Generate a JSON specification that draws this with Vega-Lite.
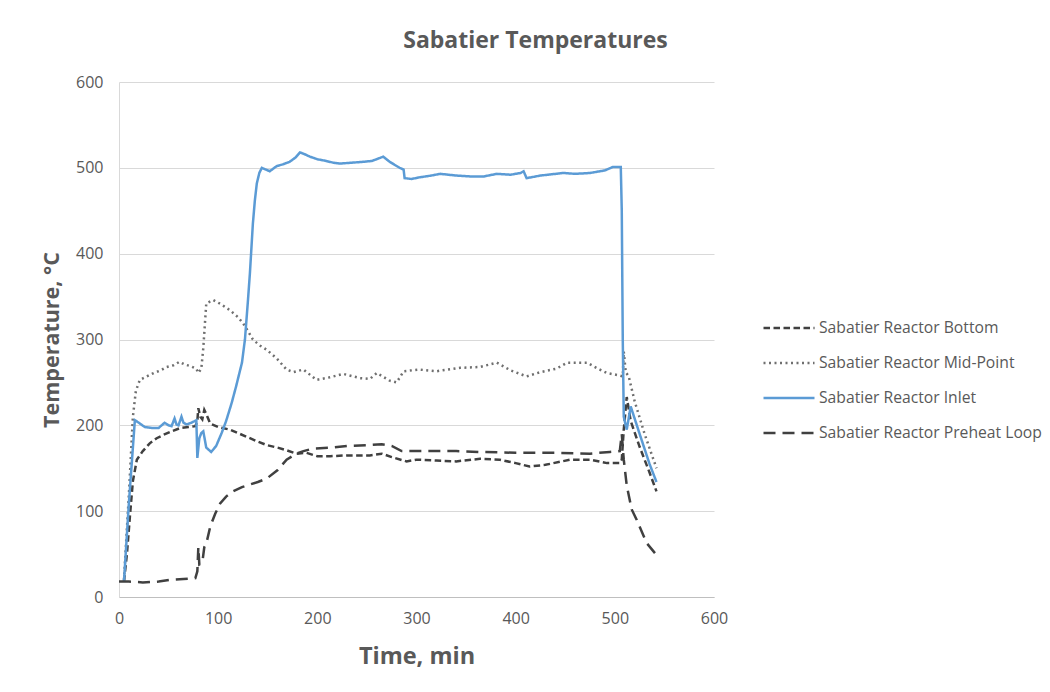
{
  "$schema": "https://vega.github.io/schema/vega-lite/v6.json",
  "width": 595,
  "height": 515,
  "autosize": {"type": "none"},
  "padding": {"left": 119, "top": 82, "right": 336, "bottom": 95},
  "background": "white",
  "config": {
    "view": {"stroke": null},
    "font": "Open Sans"
  },
  "title": {
    "text": "Sabatier Temperatures",
    "anchor": "middle",
    "frame": "group",
    "dx": 119,
    "offset": 21,
    "fontSize": 23,
    "fontWeight": "bold",
    "color": "#595959",
    "font": "Open Sans"
  },
  "data": {
    "values": [
      {"s": "Sabatier Reactor Bottom", "t": 5, "v": 18},
      {"s": "Sabatier Reactor Bottom", "t": 8, "v": 50},
      {"s": "Sabatier Reactor Bottom", "t": 11, "v": 94},
      {"s": "Sabatier Reactor Bottom", "t": 14, "v": 135},
      {"s": "Sabatier Reactor Bottom", "t": 18, "v": 160},
      {"s": "Sabatier Reactor Bottom", "t": 24, "v": 170},
      {"s": "Sabatier Reactor Bottom", "t": 31, "v": 179},
      {"s": "Sabatier Reactor Bottom", "t": 38, "v": 185},
      {"s": "Sabatier Reactor Bottom", "t": 45, "v": 189},
      {"s": "Sabatier Reactor Bottom", "t": 53, "v": 193},
      {"s": "Sabatier Reactor Bottom", "t": 62, "v": 197},
      {"s": "Sabatier Reactor Bottom", "t": 70, "v": 198},
      {"s": "Sabatier Reactor Bottom", "t": 77, "v": 199},
      {"s": "Sabatier Reactor Bottom", "t": 79, "v": 205},
      {"s": "Sabatier Reactor Bottom", "t": 80, "v": 220},
      {"s": "Sabatier Reactor Bottom", "t": 82, "v": 210},
      {"s": "Sabatier Reactor Bottom", "t": 84, "v": 207},
      {"s": "Sabatier Reactor Bottom", "t": 86, "v": 218},
      {"s": "Sabatier Reactor Bottom", "t": 88, "v": 213},
      {"s": "Sabatier Reactor Bottom", "t": 92, "v": 202},
      {"s": "Sabatier Reactor Bottom", "t": 100, "v": 198},
      {"s": "Sabatier Reactor Bottom", "t": 112, "v": 195},
      {"s": "Sabatier Reactor Bottom", "t": 122, "v": 190},
      {"s": "Sabatier Reactor Bottom", "t": 132, "v": 185},
      {"s": "Sabatier Reactor Bottom", "t": 140, "v": 181},
      {"s": "Sabatier Reactor Bottom", "t": 149, "v": 177},
      {"s": "Sabatier Reactor Bottom", "t": 160, "v": 174},
      {"s": "Sabatier Reactor Bottom", "t": 169, "v": 171},
      {"s": "Sabatier Reactor Bottom", "t": 179, "v": 167},
      {"s": "Sabatier Reactor Bottom", "t": 189, "v": 168},
      {"s": "Sabatier Reactor Bottom", "t": 200, "v": 164},
      {"s": "Sabatier Reactor Bottom", "t": 213, "v": 164},
      {"s": "Sabatier Reactor Bottom", "t": 230, "v": 165},
      {"s": "Sabatier Reactor Bottom", "t": 253, "v": 165},
      {"s": "Sabatier Reactor Bottom", "t": 265, "v": 167},
      {"s": "Sabatier Reactor Bottom", "t": 275, "v": 163},
      {"s": "Sabatier Reactor Bottom", "t": 290, "v": 158},
      {"s": "Sabatier Reactor Bottom", "t": 300, "v": 160},
      {"s": "Sabatier Reactor Bottom", "t": 320, "v": 159},
      {"s": "Sabatier Reactor Bottom", "t": 340, "v": 158},
      {"s": "Sabatier Reactor Bottom", "t": 364, "v": 161},
      {"s": "Sabatier Reactor Bottom", "t": 384, "v": 160},
      {"s": "Sabatier Reactor Bottom", "t": 400, "v": 156},
      {"s": "Sabatier Reactor Bottom", "t": 414, "v": 152},
      {"s": "Sabatier Reactor Bottom", "t": 430, "v": 154},
      {"s": "Sabatier Reactor Bottom", "t": 455, "v": 160},
      {"s": "Sabatier Reactor Bottom", "t": 475, "v": 160},
      {"s": "Sabatier Reactor Bottom", "t": 492, "v": 156},
      {"s": "Sabatier Reactor Bottom", "t": 505, "v": 156},
      {"s": "Sabatier Reactor Bottom", "t": 507, "v": 160},
      {"s": "Sabatier Reactor Bottom", "t": 509, "v": 195},
      {"s": "Sabatier Reactor Bottom", "t": 512, "v": 233},
      {"s": "Sabatier Reactor Bottom", "t": 516, "v": 205},
      {"s": "Sabatier Reactor Bottom", "t": 525, "v": 175},
      {"s": "Sabatier Reactor Bottom", "t": 535, "v": 145},
      {"s": "Sabatier Reactor Bottom", "t": 542, "v": 123},

      {"s": "Sabatier Reactor Mid-Point", "t": 5, "v": 20},
      {"s": "Sabatier Reactor Mid-Point", "t": 10, "v": 120},
      {"s": "Sabatier Reactor Mid-Point", "t": 14, "v": 210},
      {"s": "Sabatier Reactor Mid-Point", "t": 17, "v": 240},
      {"s": "Sabatier Reactor Mid-Point", "t": 21, "v": 253},
      {"s": "Sabatier Reactor Mid-Point", "t": 28, "v": 257},
      {"s": "Sabatier Reactor Mid-Point", "t": 35, "v": 261},
      {"s": "Sabatier Reactor Mid-Point", "t": 42, "v": 264},
      {"s": "Sabatier Reactor Mid-Point", "t": 48, "v": 268},
      {"s": "Sabatier Reactor Mid-Point", "t": 55, "v": 270},
      {"s": "Sabatier Reactor Mid-Point", "t": 61, "v": 274},
      {"s": "Sabatier Reactor Mid-Point", "t": 66, "v": 271},
      {"s": "Sabatier Reactor Mid-Point", "t": 72, "v": 269},
      {"s": "Sabatier Reactor Mid-Point", "t": 78, "v": 266},
      {"s": "Sabatier Reactor Mid-Point", "t": 80, "v": 261},
      {"s": "Sabatier Reactor Mid-Point", "t": 83, "v": 266},
      {"s": "Sabatier Reactor Mid-Point", "t": 85, "v": 290},
      {"s": "Sabatier Reactor Mid-Point", "t": 88, "v": 342},
      {"s": "Sabatier Reactor Mid-Point", "t": 95, "v": 346},
      {"s": "Sabatier Reactor Mid-Point", "t": 103, "v": 341},
      {"s": "Sabatier Reactor Mid-Point", "t": 112, "v": 334},
      {"s": "Sabatier Reactor Mid-Point", "t": 120, "v": 326},
      {"s": "Sabatier Reactor Mid-Point", "t": 125, "v": 319},
      {"s": "Sabatier Reactor Mid-Point", "t": 130, "v": 310},
      {"s": "Sabatier Reactor Mid-Point", "t": 135, "v": 300},
      {"s": "Sabatier Reactor Mid-Point", "t": 142, "v": 293},
      {"s": "Sabatier Reactor Mid-Point", "t": 149, "v": 288},
      {"s": "Sabatier Reactor Mid-Point", "t": 159, "v": 278},
      {"s": "Sabatier Reactor Mid-Point", "t": 169, "v": 265},
      {"s": "Sabatier Reactor Mid-Point", "t": 176, "v": 262},
      {"s": "Sabatier Reactor Mid-Point", "t": 186, "v": 265},
      {"s": "Sabatier Reactor Mid-Point", "t": 199, "v": 253},
      {"s": "Sabatier Reactor Mid-Point", "t": 213, "v": 256},
      {"s": "Sabatier Reactor Mid-Point", "t": 226, "v": 260},
      {"s": "Sabatier Reactor Mid-Point", "t": 243, "v": 255},
      {"s": "Sabatier Reactor Mid-Point", "t": 253, "v": 254},
      {"s": "Sabatier Reactor Mid-Point", "t": 260, "v": 261},
      {"s": "Sabatier Reactor Mid-Point", "t": 273, "v": 252},
      {"s": "Sabatier Reactor Mid-Point", "t": 280, "v": 250},
      {"s": "Sabatier Reactor Mid-Point", "t": 287, "v": 263},
      {"s": "Sabatier Reactor Mid-Point", "t": 303, "v": 265},
      {"s": "Sabatier Reactor Mid-Point", "t": 320, "v": 263},
      {"s": "Sabatier Reactor Mid-Point", "t": 344, "v": 267},
      {"s": "Sabatier Reactor Mid-Point", "t": 364, "v": 268},
      {"s": "Sabatier Reactor Mid-Point", "t": 381, "v": 273},
      {"s": "Sabatier Reactor Mid-Point", "t": 395, "v": 264},
      {"s": "Sabatier Reactor Mid-Point", "t": 411, "v": 257},
      {"s": "Sabatier Reactor Mid-Point", "t": 425, "v": 262},
      {"s": "Sabatier Reactor Mid-Point", "t": 441, "v": 266},
      {"s": "Sabatier Reactor Mid-Point", "t": 452, "v": 273},
      {"s": "Sabatier Reactor Mid-Point", "t": 472, "v": 273},
      {"s": "Sabatier Reactor Mid-Point", "t": 483, "v": 266},
      {"s": "Sabatier Reactor Mid-Point", "t": 492, "v": 261},
      {"s": "Sabatier Reactor Mid-Point", "t": 505, "v": 258},
      {"s": "Sabatier Reactor Mid-Point", "t": 508, "v": 257},
      {"s": "Sabatier Reactor Mid-Point", "t": 509, "v": 286},
      {"s": "Sabatier Reactor Mid-Point", "t": 511, "v": 262},
      {"s": "Sabatier Reactor Mid-Point", "t": 514, "v": 257},
      {"s": "Sabatier Reactor Mid-Point", "t": 520, "v": 228},
      {"s": "Sabatier Reactor Mid-Point", "t": 530, "v": 190},
      {"s": "Sabatier Reactor Mid-Point", "t": 542, "v": 150},

      {"s": "Sabatier Reactor Inlet", "t": 5, "v": 18},
      {"s": "Sabatier Reactor Inlet", "t": 10, "v": 110},
      {"s": "Sabatier Reactor Inlet", "t": 16, "v": 206},
      {"s": "Sabatier Reactor Inlet", "t": 20, "v": 203},
      {"s": "Sabatier Reactor Inlet", "t": 26, "v": 198},
      {"s": "Sabatier Reactor Inlet", "t": 33, "v": 197},
      {"s": "Sabatier Reactor Inlet", "t": 40, "v": 197},
      {"s": "Sabatier Reactor Inlet", "t": 46, "v": 203},
      {"s": "Sabatier Reactor Inlet", "t": 50, "v": 200},
      {"s": "Sabatier Reactor Inlet", "t": 53, "v": 199},
      {"s": "Sabatier Reactor Inlet", "t": 56, "v": 208},
      {"s": "Sabatier Reactor Inlet", "t": 58, "v": 201},
      {"s": "Sabatier Reactor Inlet", "t": 60, "v": 200},
      {"s": "Sabatier Reactor Inlet", "t": 63, "v": 210},
      {"s": "Sabatier Reactor Inlet", "t": 65, "v": 203},
      {"s": "Sabatier Reactor Inlet", "t": 68, "v": 201},
      {"s": "Sabatier Reactor Inlet", "t": 73, "v": 203},
      {"s": "Sabatier Reactor Inlet", "t": 78, "v": 206},
      {"s": "Sabatier Reactor Inlet", "t": 79, "v": 162},
      {"s": "Sabatier Reactor Inlet", "t": 81, "v": 185},
      {"s": "Sabatier Reactor Inlet", "t": 83, "v": 191},
      {"s": "Sabatier Reactor Inlet", "t": 85, "v": 193},
      {"s": "Sabatier Reactor Inlet", "t": 88, "v": 174},
      {"s": "Sabatier Reactor Inlet", "t": 93, "v": 169},
      {"s": "Sabatier Reactor Inlet", "t": 98, "v": 176},
      {"s": "Sabatier Reactor Inlet", "t": 103.5, "v": 191},
      {"s": "Sabatier Reactor Inlet", "t": 108, "v": 205},
      {"s": "Sabatier Reactor Inlet", "t": 113.6, "v": 226},
      {"s": "Sabatier Reactor Inlet", "t": 118, "v": 245},
      {"s": "Sabatier Reactor Inlet", "t": 124, "v": 273},
      {"s": "Sabatier Reactor Inlet", "t": 127, "v": 300},
      {"s": "Sabatier Reactor Inlet", "t": 130, "v": 345},
      {"s": "Sabatier Reactor Inlet", "t": 132, "v": 377},
      {"s": "Sabatier Reactor Inlet", "t": 135, "v": 435},
      {"s": "Sabatier Reactor Inlet", "t": 137, "v": 462},
      {"s": "Sabatier Reactor Inlet", "t": 139, "v": 482},
      {"s": "Sabatier Reactor Inlet", "t": 141.5, "v": 494},
      {"s": "Sabatier Reactor Inlet", "t": 144, "v": 500},
      {"s": "Sabatier Reactor Inlet", "t": 148, "v": 498},
      {"s": "Sabatier Reactor Inlet", "t": 152, "v": 496},
      {"s": "Sabatier Reactor Inlet", "t": 159, "v": 502},
      {"s": "Sabatier Reactor Inlet", "t": 165, "v": 504},
      {"s": "Sabatier Reactor Inlet", "t": 172, "v": 507},
      {"s": "Sabatier Reactor Inlet", "t": 178, "v": 512},
      {"s": "Sabatier Reactor Inlet", "t": 182.5, "v": 518},
      {"s": "Sabatier Reactor Inlet", "t": 187, "v": 516},
      {"s": "Sabatier Reactor Inlet", "t": 192.6, "v": 513},
      {"s": "Sabatier Reactor Inlet", "t": 200, "v": 510},
      {"s": "Sabatier Reactor Inlet", "t": 209, "v": 508},
      {"s": "Sabatier Reactor Inlet", "t": 216, "v": 506},
      {"s": "Sabatier Reactor Inlet", "t": 223, "v": 505},
      {"s": "Sabatier Reactor Inlet", "t": 235, "v": 506},
      {"s": "Sabatier Reactor Inlet", "t": 246, "v": 507},
      {"s": "Sabatier Reactor Inlet", "t": 255, "v": 508},
      {"s": "Sabatier Reactor Inlet", "t": 266.5, "v": 513},
      {"s": "Sabatier Reactor Inlet", "t": 273, "v": 507},
      {"s": "Sabatier Reactor Inlet", "t": 283, "v": 500},
      {"s": "Sabatier Reactor Inlet", "t": 287, "v": 498},
      {"s": "Sabatier Reactor Inlet", "t": 288, "v": 488},
      {"s": "Sabatier Reactor Inlet", "t": 295, "v": 487},
      {"s": "Sabatier Reactor Inlet", "t": 303.5, "v": 489},
      {"s": "Sabatier Reactor Inlet", "t": 315, "v": 491},
      {"s": "Sabatier Reactor Inlet", "t": 324, "v": 493},
      {"s": "Sabatier Reactor Inlet", "t": 340, "v": 491},
      {"s": "Sabatier Reactor Inlet", "t": 354, "v": 490},
      {"s": "Sabatier Reactor Inlet", "t": 368, "v": 490},
      {"s": "Sabatier Reactor Inlet", "t": 381, "v": 493},
      {"s": "Sabatier Reactor Inlet", "t": 395, "v": 492},
      {"s": "Sabatier Reactor Inlet", "t": 405, "v": 494},
      {"s": "Sabatier Reactor Inlet", "t": 408, "v": 496},
      {"s": "Sabatier Reactor Inlet", "t": 411, "v": 488},
      {"s": "Sabatier Reactor Inlet", "t": 425, "v": 491},
      {"s": "Sabatier Reactor Inlet", "t": 448, "v": 494},
      {"s": "Sabatier Reactor Inlet", "t": 460, "v": 493},
      {"s": "Sabatier Reactor Inlet", "t": 475, "v": 494},
      {"s": "Sabatier Reactor Inlet", "t": 490, "v": 497},
      {"s": "Sabatier Reactor Inlet", "t": 498, "v": 501},
      {"s": "Sabatier Reactor Inlet", "t": 506, "v": 501},
      {"s": "Sabatier Reactor Inlet", "t": 507, "v": 450},
      {"s": "Sabatier Reactor Inlet", "t": 508, "v": 300},
      {"s": "Sabatier Reactor Inlet", "t": 509, "v": 210},
      {"s": "Sabatier Reactor Inlet", "t": 512, "v": 195},
      {"s": "Sabatier Reactor Inlet", "t": 516, "v": 222},
      {"s": "Sabatier Reactor Inlet", "t": 525, "v": 190},
      {"s": "Sabatier Reactor Inlet", "t": 535, "v": 155},
      {"s": "Sabatier Reactor Inlet", "t": 542, "v": 134},

      {"s": "Sabatier Reactor Preheat Loop", "t": 0, "v": 18},
      {"s": "Sabatier Reactor Preheat Loop", "t": 10, "v": 18},
      {"s": "Sabatier Reactor Preheat Loop", "t": 24, "v": 17},
      {"s": "Sabatier Reactor Preheat Loop", "t": 40, "v": 18},
      {"s": "Sabatier Reactor Preheat Loop", "t": 51, "v": 20},
      {"s": "Sabatier Reactor Preheat Loop", "t": 65, "v": 21},
      {"s": "Sabatier Reactor Preheat Loop", "t": 77, "v": 22},
      {"s": "Sabatier Reactor Preheat Loop", "t": 79, "v": 30},
      {"s": "Sabatier Reactor Preheat Loop", "t": 80, "v": 58},
      {"s": "Sabatier Reactor Preheat Loop", "t": 81, "v": 38},
      {"s": "Sabatier Reactor Preheat Loop", "t": 84, "v": 40},
      {"s": "Sabatier Reactor Preheat Loop", "t": 86, "v": 58},
      {"s": "Sabatier Reactor Preheat Loop", "t": 88, "v": 62},
      {"s": "Sabatier Reactor Preheat Loop", "t": 92, "v": 82},
      {"s": "Sabatier Reactor Preheat Loop", "t": 97, "v": 97},
      {"s": "Sabatier Reactor Preheat Loop", "t": 102, "v": 109},
      {"s": "Sabatier Reactor Preheat Loop", "t": 108, "v": 117},
      {"s": "Sabatier Reactor Preheat Loop", "t": 115, "v": 123},
      {"s": "Sabatier Reactor Preheat Loop", "t": 124, "v": 128},
      {"s": "Sabatier Reactor Preheat Loop", "t": 132, "v": 131},
      {"s": "Sabatier Reactor Preheat Loop", "t": 140, "v": 134},
      {"s": "Sabatier Reactor Preheat Loop", "t": 149, "v": 138},
      {"s": "Sabatier Reactor Preheat Loop", "t": 160, "v": 148},
      {"s": "Sabatier Reactor Preheat Loop", "t": 169, "v": 160},
      {"s": "Sabatier Reactor Preheat Loop", "t": 179, "v": 167},
      {"s": "Sabatier Reactor Preheat Loop", "t": 186, "v": 170},
      {"s": "Sabatier Reactor Preheat Loop", "t": 196, "v": 173},
      {"s": "Sabatier Reactor Preheat Loop", "t": 215, "v": 174},
      {"s": "Sabatier Reactor Preheat Loop", "t": 230, "v": 176},
      {"s": "Sabatier Reactor Preheat Loop", "t": 253, "v": 177},
      {"s": "Sabatier Reactor Preheat Loop", "t": 265, "v": 178},
      {"s": "Sabatier Reactor Preheat Loop", "t": 275, "v": 176},
      {"s": "Sabatier Reactor Preheat Loop", "t": 285, "v": 170},
      {"s": "Sabatier Reactor Preheat Loop", "t": 300, "v": 170},
      {"s": "Sabatier Reactor Preheat Loop", "t": 320, "v": 170},
      {"s": "Sabatier Reactor Preheat Loop", "t": 340, "v": 170},
      {"s": "Sabatier Reactor Preheat Loop", "t": 364, "v": 169},
      {"s": "Sabatier Reactor Preheat Loop", "t": 400, "v": 168},
      {"s": "Sabatier Reactor Preheat Loop", "t": 440, "v": 168},
      {"s": "Sabatier Reactor Preheat Loop", "t": 475, "v": 167},
      {"s": "Sabatier Reactor Preheat Loop", "t": 495, "v": 169},
      {"s": "Sabatier Reactor Preheat Loop", "t": 505, "v": 170},
      {"s": "Sabatier Reactor Preheat Loop", "t": 507, "v": 190},
      {"s": "Sabatier Reactor Preheat Loop", "t": 509, "v": 160},
      {"s": "Sabatier Reactor Preheat Loop", "t": 512, "v": 130},
      {"s": "Sabatier Reactor Preheat Loop", "t": 517, "v": 102},
      {"s": "Sabatier Reactor Preheat Loop", "t": 522, "v": 90},
      {"s": "Sabatier Reactor Preheat Loop", "t": 532, "v": 63},
      {"s": "Sabatier Reactor Preheat Loop", "t": 542, "v": 49}
    ]
  },
  "mark": {"type": "line", "strokeWidth": 2.5, "interpolate": "linear"},
  "encoding": {
    "x": {
      "field": "t",
      "type": "quantitative",
      "scale": {"domain": [0, 600], "nice": false},
      "axis": {
        "title": "Time, min",
        "values": [0, 100, 200, 300, 400, 500, 600],
        "grid": false,
        "ticks": false,
        "labelFlush": false,
        "domainColor": "#bfbfbf",
        "domainWidth": 1,
        "labelColor": "#595959",
        "labelFontSize": 16,
        "labelFont": "Open Sans",
        "labelPadding": 13,
        "titleFont": "Open Sans",
        "titleFontSize": 23.5,
        "titleFontWeight": "bold",
        "titleColor": "#595959",
        "titlePadding": 18
      }
    },
    "y": {
      "field": "v",
      "type": "quantitative",
      "scale": {"domain": [0, 600], "nice": false},
      "axis": {
        "title": "Temperature, °C",
        "values": [0, 100, 200, 300, 400, 500, 600],
        "grid": true,
        "gridColor": "#d9d9d9",
        "gridWidth": 1,
        "ticks": false,
        "labelFlush": false,
        "domain": true,
        "domainColor": "#d9d9d9",
        "domainWidth": 1,
        "labelColor": "#595959",
        "labelFontSize": 16,
        "labelFont": "Open Sans",
        "labelPadding": 16,
        "titleFont": "Open Sans",
        "titleFontSize": 21.5,
        "titleFontWeight": "bold",
        "titleColor": "#595959",
        "titlePadding": 12
      }
    },
    "color": {
      "field": "s",
      "type": "nominal",
      "scale": {
        "domain": ["Sabatier Reactor Bottom", "Sabatier Reactor Mid-Point", "Sabatier Reactor Inlet", "Sabatier Reactor Preheat Loop"],
        "range": ["#404040", "#6f6f6f", "#5b9bd5", "#404040"]
      },
      "legend": {
        "title": null,
        "orient": "none",
        "legendX": 643,
        "legendY": 219,
        "symbolType": "stroke",
        "symbolSize": 2601,
        "symbolStrokeWidth": 2.5,
        "rowPadding": -19,
        "labelOffset": 3,
        "labelFont": "Open Sans",
        "labelFontSize": 15.7,
        "labelColor": "#595959",
        "labelLimit": 400
      }
    },
    "strokeDash": {
      "field": "s",
      "type": "nominal",
      "scale": {
        "domain": ["Sabatier Reactor Bottom", "Sabatier Reactor Mid-Point", "Sabatier Reactor Inlet", "Sabatier Reactor Preheat Loop"],
        "range": [[6.5, 3.5], [2, 3.5], [1, 0], [12, 7]]
      },
      "legend": {
        "title": null,
        "orient": "none",
        "legendX": 643,
        "legendY": 219,
        "symbolType": "stroke",
        "symbolSize": 2601,
        "symbolStrokeWidth": 2.5,
        "rowPadding": -19,
        "labelOffset": 3,
        "labelFont": "Open Sans",
        "labelFontSize": 15.7,
        "labelColor": "#595959",
        "labelLimit": 400
      }
    }
  }
}
